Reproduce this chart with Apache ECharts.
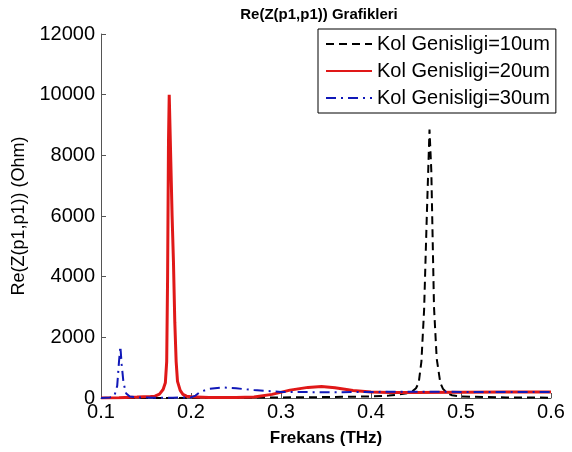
<!DOCTYPE html>
<html>
<head>
<meta charset="utf-8">
<script src="https://cdn.jsdelivr.net/npm/echarts@6/dist/echarts.min.js"></script>
<style>
html,body{margin:0;padding:0;background:#fff;}
#c{width:572px;height:452px;}
</style>
</head>
<body>
<div id="c"></div>
<script>
// Series names
var seriesNames = ['Kol Genisligi=10um', 'Kol Genisligi=20um', 'Kol Genisligi=30um'];

// 10um (black dashed)
var x10 = [0.10, 0.15, 0.20, 0.25, 0.30, 0.35, 0.40, 0.42, 0.43, 0.44, 0.445, 0.450, 0.453, 0.456, 0.459, 0.462, 0.465, 0.467, 0.470, 0.473, 0.477, 0.480, 0.485, 0.490, 0.500, 0.550, 0.600];
var y10 = [0, 0, 5, 10, 20, 30, 50, 80, 110, 160, 200, 320, 500, 1200, 2900, 6000, 8850, 7500, 3000, 1300, 500, 300, 150, 90, 50, 20, 10];

// 20um (red solid)
var x20 = [0.10, 0.12, 0.14, 0.155, 0.160, 0.165, 0.169, 0.1715, 0.173, 0.174, 0.175, 0.1758, 0.177, 0.179, 0.1805, 0.182, 0.1835, 0.185, 0.188, 0.191, 0.195, 0.20, 0.22, 0.25, 0.27, 0.29, 0.31, 0.33, 0.345, 0.36, 0.38, 0.40, 0.42, 0.45, 0.50, 0.55, 0.60];
var y20 = [0, 10, 30, 50, 60, 130, 280, 500, 1200, 4000, 8500, 10000, 8500, 6000, 4500, 2500, 1200, 550, 250, 120, 60, 40, 20, 15, 30, 120, 260, 350, 380, 340, 250, 200, 180, 180, 190, 200, 200];

// 30um (blue dash-dot)
var x30 = [0.10, 0.11, 0.115, 0.118, 0.120, 0.1215, 0.123, 0.125, 0.128, 0.132, 0.14, 0.16, 0.18, 0.20, 0.205, 0.21, 0.22, 0.235, 0.25, 0.27, 0.30, 0.35, 0.40, 0.45, 0.50, 0.55, 0.60];
var y30 = [0, 20, 80, 400, 1200, 1700, 1100, 500, 150, 50, 20, 10, 10, 20, 80, 200, 300, 350, 320, 260, 200, 190, 200, 210, 200, 200, 200];

function pairs(xs, ys){ var o=[]; for(var i=0;i<xs.length;i++){o.push([xs[i], ys[i]]);} return o; }

var FONT = '"Liberation Sans", Arial, sans-serif';
var chart = echarts.init(document.getElementById('c'), null, {renderer:'canvas'});
chart.setOption({
  backgroundColor: '#ffffff',
  animation: false,
  title: {
    text: 'Re(Z(p1,p1)) Grafikleri',
    left: 314, top: 2, textAlign: 'center',
    textStyle: {fontFamily: FONT, fontSize: 15, fontWeight: 'bold', color: '#000'}
  },
  legend: {
    orient: 'vertical',
    left: 318, top: 29,
    padding: [4, 6, 4, 7],
    itemWidth: 46, itemHeight: 14, itemGap: 5,
    backgroundColor: '#fff',
    borderColor: '#000', borderWidth: 1,
    itemStyle: {opacity: 0},
    textStyle: {fontFamily: FONT, fontSize: 20, color: '#000', lineHeight: 22},
    data: seriesNames
  },
  grid: {left: 101, right: 21, top: 34, bottom: 54, containLabel: false},
  xAxis: {
    type: 'value', min: 0.1, max: 0.6, interval: 0.1,
    name: 'Frekans (THz)', nameLocation: 'middle', nameGap: 32,
    nameTextStyle: {fontFamily: FONT, fontSize: 17, fontWeight: 'bold', color: '#000'},
    axisLine: {lineStyle: {color: '#555', width: 1}},
    axisTick: {inside: true, length: 5, lineStyle: {color: '#555'}},
    splitLine: {show: false},
    axisLabel: {fontFamily: FONT, fontSize: 20, color: '#000', margin: 4,
      formatter: function(v){ return (+v).toFixed(1); }}
  },
  yAxis: {
    type: 'value', min: 0, max: 12000, interval: 2000,
    name: 'Re(Z(p1,p1)) (Ohm)', nameLocation: 'middle', nameGap: 53,
    nameTextStyle: {fontFamily: FONT, fontSize: 18, fontWeight: 'normal', color: '#000'},
    axisLine: {show: true, lineStyle: {color: '#555', width: 1}},
    axisTick: {show: true, inside: true, length: 5, lineStyle: {color: '#555'}},
    splitLine: {show: false},
    axisLabel: {fontFamily: FONT, fontSize: 20, color: '#000', margin: 6,
      formatter: function(v){ return String(v); }}
  },
  series: [
    {name: seriesNames[0], type: 'line', symbol: 'none', data: pairs(x10, y10),
     lineStyle: {color: '#000000', width: 2, type: [8, 5]}, itemStyle: {color: '#000000'}},
    {name: seriesNames[1], type: 'line', symbol: 'none', data: pairs(x20, y20),
     lineStyle: {color: '#e01818', width: 3, type: 'solid'}, itemStyle: {color: '#e01818'}},
    {name: seriesNames[2], type: 'line', symbol: 'none', data: pairs(x30, y30),
     lineStyle: {color: '#1018b8', width: 2, type: [10, 5, 2, 5]}, itemStyle: {color: '#1018b8'}}
  ]
});
</script>
</body>
</html>
